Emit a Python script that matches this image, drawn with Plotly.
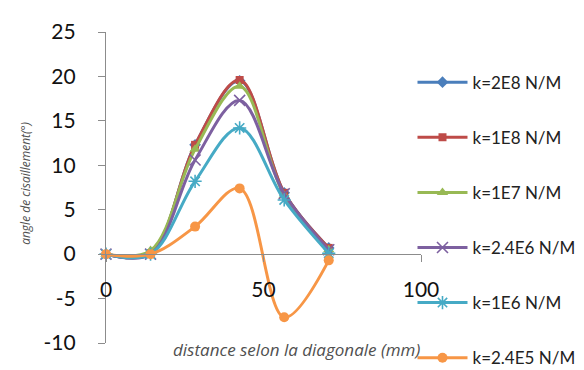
import plotly.graph_objects as go

# Data
distance_mm = [0, 14.14, 28.28, 42.43, 56.57, 70.71]
series_names = ["k=2E8 N/M", "k=1E8 N/M", "k=1E7 N/M", "k=2.4E6 N/M", "k=1E6 N/M", "k=2.4E5 N/M"]
k_2e8 = [0, 0.1, 12.3, 19.5, 6.9, 0.7]
k_1e8 = [0, 0.1, 12.3, 19.6, 6.9, 0.7]
k_1e7 = [0, 0.4, 11.8, 18.9, 6.6, 0.5]
k_2_4e6 = [0, 0.0, 10.6, 17.3, 6.8, 0.5]
k_1e6 = [0, 0.0, 8.2, 14.2, 6.1, 0.1]
k_2_4e5 = [0, 0.0, 3.1, 7.4, -7.1, -0.7]
x_ticks = [0, 50, 100]
y_ticks = [-10, -5, 0, 5, 10, 15, 20, 25]
y_tick_text = ["-10", "-5", "0", "5", "10", "15", "20", "25"]

values = [k_2e8, k_1e8, k_1e7, k_2_4e6, k_1e6, k_2_4e5]
colors = ["#4A7EBB", "#BE4B48", "#98B954", "#7D60A0", "#46AAC5", "#F79646"]
symbols = ["diamond", "square", "triangle-up", "x-thin", "asterisk", "circle"]
sizes = [9, 8, 10, 11, 11, 10]

fig = go.Figure()
for i, (name, ys) in enumerate(zip(series_names, values)):
    thin = symbols[i] in ("x-thin", "asterisk")
    fig.add_trace(go.Scatter(
        x=distance_mm, y=ys, name=name, legendgroup=str(i),
        mode="lines+markers",
        line=dict(color=colors[i], width=3, shape="spline", smoothing=1),
        marker=dict(symbol=symbols[i], size=sizes[i], color=colors[i],
                    line=dict(color=colors[i], width=1.6 if thin else 0)),
        cliponaxis=False,
    ))

fig.update_layout(
    width=584, height=370,
    margin=dict(l=98, r=171, t=24, b=35, autoexpand=False),
    paper_bgcolor="white", plot_bgcolor="white",
    showlegend=True,
    legend=dict(x=0.973, xanchor="left", y=0.895, yanchor="top",
                font=dict(family="Lato", size=17, color="#222222"),
                itemwidth=50, tracegroupgap=30, bgcolor="rgba(0,0,0,0)"),
    font=dict(family="Lato"),
)

fig.update_xaxes(
    range=[0, 100], tickvals=x_ticks, ticktext=[str(v) for v in x_ticks],
    showgrid=False, zeroline=False,
    showline=True, linecolor="#8c8c8c", linewidth=1.3,
    anchor="free", position=10 / 35,
    ticks="outside", ticklen=7, tickcolor="#8c8c8c", tickwidth=1.3,
    ticklabelstandoff=10,
    tickfont=dict(family="Lato", size=21, color="#111111"),
)
fig.update_yaxes(
    range=[-10, 25], tickvals=y_ticks, ticktext=y_tick_text,
    showgrid=False, zeroline=False,
    showline=True, linecolor="#8c8c8c", linewidth=1.3,
    ticks="outside", ticklen=7, tickcolor="#8c8c8c", tickwidth=1.3,
    ticklabelstandoff=18,
    tickfont=dict(family="Lato", size=21, color="#111111"),
)

fig.add_annotation(
    text="angle de cisaillement(°)", textangle=-90,
    xref="paper", yref="paper", x=-0.254, xanchor="center",
    y=0.515, yanchor="middle", showarrow=False,
    font=dict(family="Open Sans", size=12, color="#505050", style="italic"),
)
fig.add_annotation(
    text="distance selon la diagonale (mm)",
    xref="paper", yref="paper", x=0.606, xanchor="center",
    y=-0.022, yanchor="middle", showarrow=False,
    font=dict(family="Open Sans", size=17, color="#505050", style="italic"),
)

fig.write_html("out.html")
